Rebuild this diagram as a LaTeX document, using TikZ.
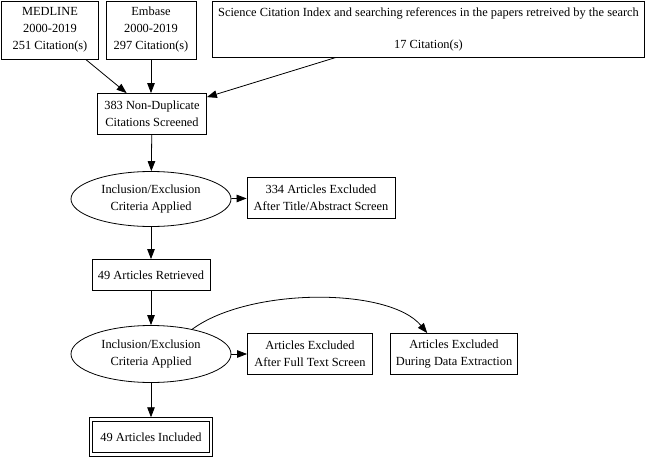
\documentclass[tikz,border=0pt]{standalone}
\usepackage{fontspec}
\setmainfont{Liberation Serif}
\usetikzlibrary{shapes,arrows.meta,positioning,calc}

\tikzset{
  box/.style={draw, rectangle, align=center, inner sep=2pt, font=\fontsize{12.4}{17}\selectfont},
  crit/.style={draw, ellipse, align=center, minimum width=160pt, minimum height=55pt, inner sep=0pt, font=\fontsize{12.4}{17}\selectfont},
}

\begin{document}
\begin{tikzpicture}[x=1pt, y=-1pt, line width=0.8pt, >={Triangle[length=10pt,width=7.5pt]}]
        \useasboundingbox (0,0) rectangle (646,458);

        % sources (top row)
        \node[box, minimum width=97pt, minimum height=58pt] (medline) at (50,30) {MEDLINE\\2000-2019\\251 Citation(s)};
        \node[box, minimum width=90pt, minimum height=58pt] (embase) at (151,30) {Embase\\2000-2019\\297 Citation(s)};
        \node[box, minimum width=432pt, minimum height=56pt] (sci) at (428.5,29)
            {Science Citation Index and searching references in the papers retreived by the search\\[15pt]17 Citation(s)};

        % screening
        \node[box, minimum width=109pt, minimum height=41pt] (screened) at (152,114) {383 Non-Duplicate\\Citations Screened};
        \node[crit] (incl1) at (151,199) {Inclusion/Exclusion\\Criteria Applied};
        \node[box, minimum width=148pt, minimum height=41pt] (excl1) at (321,198) {334 Articles Excluded\\After Title/Abstract Screen};

        % retrieval
        \node[box, minimum width=118pt, minimum height=31pt] (retrieved) at (151,275) {49 Articles Retrieved};
        \node[crit, minimum height=57pt] (incl2) at (151,354) {Inclusion/Exclusion\\Criteria Applied};
        \node[box, minimum width=125pt, minimum height=41pt] (exclft) at (310,354) {Articles Excluded\\After Full Text Screen};
        \node[box, minimum width=127pt, minimum height=41pt] (excldata) at (454,354) {Articles Excluded\\During Data Extraction};

        % result
        \node[box, double, double distance=2.6pt, outer sep=2.2pt, minimum width=120pt, minimum height=35pt] (included) at (151,437) {49 Articles Included};

        % arrows
        \draw[->] (medline) -- (screened);
        \draw[->] (embase.south) -- (embase.south |- screened.north);
        \draw[->] (sci) -- (screened);
        \draw[->] (screened) -- (incl1);
        \draw[->] (incl1) -- (excl1);
        \draw[->] (incl1) -- (retrieved);
        \draw[->] (retrieved) -- (incl2);
        \draw[->] (incl2) -- (exclft);
        \draw[->] (incl2.31) .. controls +(57,-42) and +(-38,-46) .. (excldata.142);
        \draw[->] (incl2) -- (included);

    \end{tikzpicture}
\end{document}
